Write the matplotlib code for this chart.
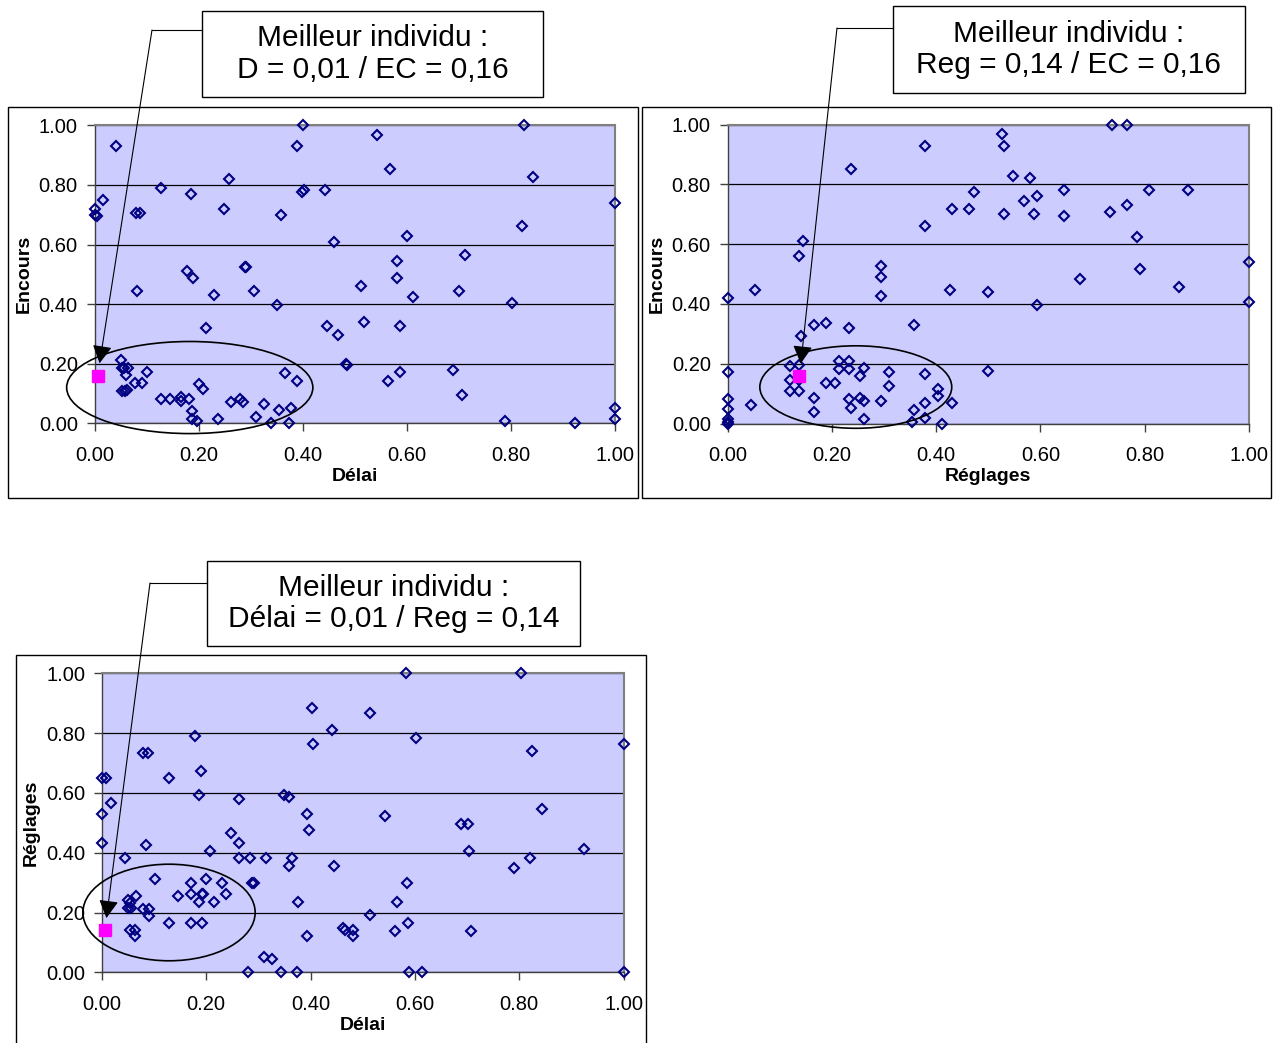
"""Three scatter plots (Délai / Encours / Réglages) with best-individual callouts."""
import matplotlib
matplotlib.use("Agg")
import matplotlib.pyplot as plt
from matplotlib.lines import Line2D
from matplotlib.patches import Ellipse, Rectangle

plt.rcParams["font.family"] = ["Liberation Sans", "DejaVu Sans"]

# ---- data ------------------------------------------------------------------
delai_1 = [0.042, 0.017, 0.000, 0.000, 0.005, 0.127, 0.185, 0.258, 0.248, 0.080,
           0.087, 0.358, 0.401, 0.390, 0.398, 0.402, 0.442, 0.461, 0.178, 0.189,
           0.289, 0.291, 0.082, 0.230, 0.306, 0.350, 0.215, 0.446, 0.468, 0.483,
           0.485, 0.050, 0.052, 0.057, 0.064, 0.060, 0.052, 0.059, 0.062, 0.101,
           0.078, 0.091, 0.127, 0.145, 0.166, 0.167, 0.182, 0.201, 0.208, 0.188,
           0.187, 0.197, 0.237, 0.262, 0.280, 0.285, 0.310, 0.326, 0.340, 0.354,
           0.377, 0.366, 0.390, 0.373,
           0.542, 0.568, 0.825, 0.843, 1.000, 0.821, 0.600, 0.582, 0.711, 0.582,
           0.512, 0.611, 0.700, 0.802, 0.517, 0.586, 0.586, 0.563, 0.688, 0.706,
           0.788, 0.923, 1.000, 1.000]
encours_1 = [0.930, 0.750, 0.718, 0.700, 0.694, 0.789, 0.770, 0.821, 0.718, 0.706,
             0.706, 0.699, 1.000, 0.930, 0.777, 0.783, 0.782, 0.608, 0.512, 0.488,
             0.525, 0.525, 0.443, 0.430, 0.443, 0.397, 0.321, 0.327, 0.295, 0.198,
             0.194, 0.211, 0.187, 0.185, 0.187, 0.161, 0.110, 0.110, 0.112, 0.173,
             0.135, 0.135, 0.083, 0.083, 0.089, 0.075, 0.083, 0.131, 0.115, 0.040,
             0.015, 0.008, 0.015, 0.070, 0.083, 0.070, 0.020, 0.064, 0.000, 0.046,
             0.051, 0.168, 0.141, 0.000,
             0.969, 0.853, 1.000, 0.827, 0.738, 0.661, 0.628, 0.545, 0.564, 0.488,
             0.461, 0.423, 0.443, 0.403, 0.339, 0.327, 0.173, 0.141, 0.179, 0.096,
             0.008, 0.000, 0.051, 0.013]

reglages_2 = [0.379, 0.236, 0.000, 0.053, 0.145, 0.138, 0.473, 0.430, 0.463, 0.379,
              0.294, 0.294, 0.294, 0.427, 0.166, 0.189, 0.233, 0.357, 0.141, 0.000,
              0.119, 0.138, 0.119, 0.138, 0.119, 0.138, 0.188, 0.207, 0.166, 0.166,
              0.214, 0.233, 0.214, 0.233, 0.262, 0.255, 0.233, 0.236, 0.255, 0.262,
              0.262, 0.294, 0.309, 0.309, 0.379, 0.357, 0.379, 0.379, 0.354, 0.404,
              0.404, 0.430, 0.411, 0.046, 0.000, 0.000, 0.000, 0.000, 0.000,
              0.526, 0.530, 0.548, 0.580, 0.594, 0.569, 0.645, 0.530, 0.587, 0.645,
              0.733, 0.737, 0.766, 0.766, 0.809, 0.883, 0.785, 0.791, 0.675, 0.866,
              1.000, 1.000, 0.594, 0.499, 0.499]
encours_2 = [0.929, 0.853, 0.420, 0.446, 0.611, 0.560, 0.776, 0.719, 0.719, 0.661,
             0.527, 0.489, 0.427, 0.446, 0.331, 0.335, 0.319, 0.331, 0.293, 0.173,
             0.194, 0.196, 0.146, 0.146, 0.108, 0.108, 0.134, 0.134, 0.087, 0.038,
             0.209, 0.209, 0.182, 0.182, 0.185, 0.160, 0.081, 0.051, 0.087, 0.075,
             0.015, 0.075, 0.171, 0.126, 0.165, 0.044, 0.070, 0.017, 0.005, 0.114,
             0.093, 0.069, 0.000, 0.062, 0.081, 0.049, 0.015, 0.006, 0.000,
             0.968, 0.928, 0.828, 0.822, 0.763, 0.744, 0.783, 0.700, 0.700, 0.694,
             0.707, 1.000, 1.000, 0.732, 0.783, 0.783, 0.623, 0.516, 0.483, 0.458,
             0.540, 0.407, 0.395, 0.439, 0.177]

delai_3 = [0.402, 0.441, 0.405, 0.178, 0.080, 0.088, 0.190, 0.000, 0.008, 0.128,
           0.018, 0.186, 0.263, 0.350, 0.358, 0.000, 0.394, 0.398, 0.248, 0.263,
           0.000, 0.084, 0.208, 0.044, 0.263, 0.284, 0.314, 0.365, 0.358, 0.445,
           0.102, 0.171, 0.200, 0.230, 0.287, 0.292, 0.146, 0.171, 0.192, 0.195,
           0.186, 0.215, 0.238, 0.066, 0.051, 0.055, 0.051, 0.057, 0.080, 0.091,
           0.091, 0.128, 0.171, 0.193, 0.377, 0.055, 0.063, 0.063, 0.394, 0.463,
           0.467, 0.482, 0.482, 0.310, 0.326, 0.281, 0.343, 0.375,
           0.583, 0.803, 0.514, 0.602, 1.000, 0.825, 0.844, 0.543, 0.688, 0.701,
           0.704, 0.923, 0.821, 0.789, 0.584, 0.566, 0.514, 0.587, 0.562, 0.708,
           0.588, 0.614, 1.000]
reglages_3 = [0.885, 0.809, 0.764, 0.789, 0.732, 0.732, 0.674, 0.650, 0.650, 0.650,
              0.566, 0.593, 0.580, 0.594, 0.586, 0.528, 0.528, 0.477, 0.465, 0.434,
              0.434, 0.427, 0.407, 0.381, 0.381, 0.381, 0.381, 0.381, 0.356, 0.356,
              0.312, 0.300, 0.312, 0.300, 0.300, 0.300, 0.254, 0.261, 0.261, 0.261,
              0.235, 0.235, 0.261, 0.256, 0.242, 0.233, 0.216, 0.216, 0.211, 0.211,
              0.188, 0.165, 0.165, 0.165, 0.235, 0.140, 0.140, 0.120, 0.120, 0.147,
              0.140, 0.140, 0.120, 0.051, 0.045, 0.000, 0.000, 0.000,
              1.000, 1.000, 0.866, 0.783, 0.764, 0.739, 0.547, 0.522, 0.496, 0.496,
              0.407, 0.414, 0.381, 0.349, 0.300, 0.235, 0.191, 0.165, 0.139, 0.139,
              0.000, 0.000, 0.000]

best_1 = (0.006, 0.160)
best_2 = (0.138, 0.159)
best_3 = (0.006, 0.140)

titles = ["Meilleur individu :\nD = 0,01 / EC = 0,16",
          "Meilleur individu :\nReg = 0,14 / EC = 0,16",
          "Meilleur individu :\nDélai = 0,01 / Reg = 0,14"]
xlabels = ["Délai", "Réglages", "Délai"]
ylabels = ["Encours", "Encours", "Réglages"]
ticks = [0.0, 0.2, 0.4, 0.6, 0.8, 1.0]

# ---- layout (pixels, top-left origin) --------------------------------------
W, H = 1275, 1043
AX_PX = [(94.5, 125.3, 615.0, 423.3),
         (727.5, 124.7, 1249.0, 423.5),
         (101.7, 673.3, 623.7, 972.3)]
FRAME_PX = [(8, 106.7, 637.7, 497.7),
            (642, 106.7, 1271, 497.7),
            (16, 655, 645.7, 1046)]
BOX_PX = [(202, 11, 543, 97), (893, 6, 1245, 93), (207, 561, 580, 646)]
ELBOW_PX = [(152, 30), (837, 28), (150, 583)]
ELLIPSES = [((0.183, 0.120), 0.473, 0.309),
            ((0.246, 0.122), 0.368, 0.276),
            ((0.129, 0.200), 0.330, 0.323)]

NAVY = "#000080"
PLOT_BG = "#CCCCFF"


def fx(px):
    return px / W


def fy(py):
    return 1 - py / H


def _panel(fig, i, xs, ys, best):
    l, t, r, b = AX_PX[i]
    ax = fig.add_axes([fx(l), fy(b), (r - l) / W, (b - t) / H])
    ax.set_facecolor(PLOT_BG)
    ax.set_xlim(0, 1); ax.set_ylim(0, 1)
    ax.set_xticks(ticks); ax.set_yticks(ticks)
    ax.xaxis.set_major_formatter(lambda v, p: f"{v:.2f}")
    ax.yaxis.set_major_formatter(lambda v, p: f"{v:.2f}")
    ax.tick_params(direction="out", length=6, width=1, color="#404040",
                   labelsize=14.5)
    ax.tick_params(axis="x", pad=10)
    ax.tick_params(axis="y", pad=6)
    for s in ("top", "right"):
        ax.spines[s].set_color("#808080"); ax.spines[s].set_linewidth(1.5)
    for s in ("left", "bottom"):
        ax.spines[s].set_color("#404040"); ax.spines[s].set_linewidth(1.0)
    ax.yaxis.grid(True, color="black", lw=0.9)
    ax.set_axisbelow(True)

    ax.plot(xs, ys, "D", ms=4.6, mfc="none", mec=NAVY, mew=1.5,
            clip_on=False, zorder=3)
    ax.plot([best[0]], [best[1]], "s", ms=9, color="#FF00FF",
            clip_on=False, zorder=4)

    (cx, cy), ew, eh = ELLIPSES[i]
    ax.add_patch(Ellipse((cx, cy), ew, eh, fill=False, ec="black", lw=1.2,
                         clip_on=False, zorder=5))

    ax.set_xlabel(xlabels[i], fontsize=14, fontweight="bold")
    ax.set_ylabel(ylabels[i], fontsize=14, fontweight="bold")
    ax.xaxis.set_label_coords(0.5, -0.15)
    ax.yaxis.set_label_coords(-0.118, 0.5)

    # callout box + elbow connector + arrow
    bl, bt, br, bb = BOX_PX[i]
    fig.add_artist(Rectangle((fx(bl), fy(bb)), (br - bl) / W, (bb - bt) / H,
                             transform=fig.transFigure, fill=False,
                             ec="black", lw=1.0))
    fig.text(fx((bl + br) / 2), fy((bt + bb) / 2), titles[i], ha="center",
             va="center", fontsize=21.5, linespacing=1.15)
    ex, ey = ELBOW_PX[i]
    fig.add_artist(Line2D([fx(bl), fx(ex)], [fy(ey), fy(ey)],
                          transform=fig.transFigure, color="black", lw=0.8))
    ax.annotate("", xy=best, xycoords="data",
                xytext=(ex, H - ey), textcoords="figure pixels",
                annotation_clip=False,
                arrowprops=dict(arrowstyle="-|>,head_length=0.55,head_width=0.3",
                                color="black", lw=0.8,
                                shrinkA=0, shrinkB=9, mutation_scale=20),
                zorder=6)

    fl, ft, fr, fb = FRAME_PX[i]
    fig.add_artist(Rectangle((fx(fl), fy(fb)), (fr - fl) / W, (fb - ft) / H,
                             transform=fig.transFigure, fill=False,
                             ec="black", lw=1.0))
    return ax


def build():
    fig = plt.figure(figsize=(W / 100, H / 100), dpi=100)
    _panel(fig, 0, delai_1, encours_1, best_1)
    _panel(fig, 1, reglages_2, encours_2, best_2)
    _panel(fig, 2, delai_3, reglages_3, best_3)
    fig.savefig("out.png", dpi=100)
    plt.close(fig)


if __name__ == "__main__":
    build()
